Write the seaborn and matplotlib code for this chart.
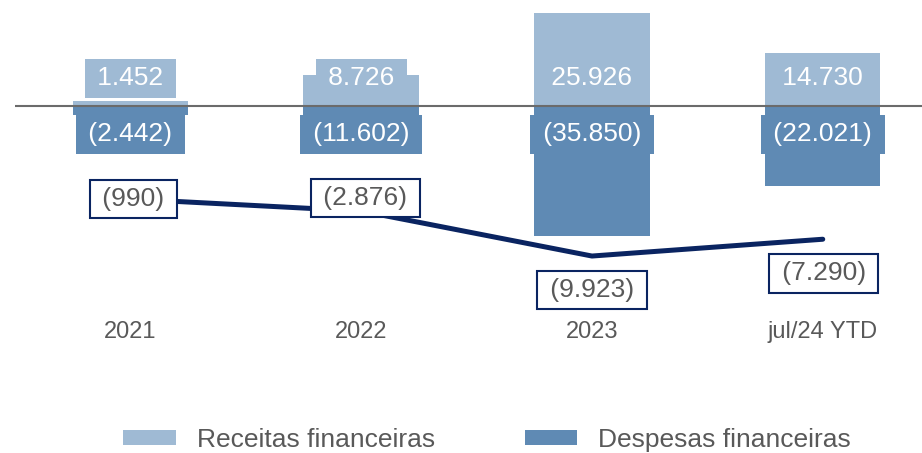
import numpy as np
import pandas as pd
import matplotlib
matplotlib.use("Agg")
import matplotlib.pyplot as plt
import seaborn as sns
from matplotlib.patches import Patch

categories = ["2021", "2022", "2023", "jul/24 YTD"]
receitas = [1452, 8726, 25926, 14730]
despesas = [-2442, -11602, -35850, -22021]
resultado = [-990, -2876, -9923, -7290]
labels_receitas = ["1.452", "8.726", "25.926", "14.730"]
labels_despesas = ["(2.442)", "(11.602)", "(35.850)", "(22.021)"]
labels_resultado = ["(990)", "(2.876)", "(9.923)", "(7.290)"]

C_REC = "#9FBAD4"
C_DES = "#5F8AB4"
C_NET = "#0A2461"
C_TXT = "#595959"

sns.set_theme(style="white")
plt.rcParams["font.family"] = ["Liberation Sans", "DejaVu Sans"]

W, H = 922, 453
fig = plt.figure(figsize=(W / 100, H / 100), dpi=100)
ax_l, ax_b, ax_w, ax_h = 15, H - 310, 907, 310
ax = fig.add_axes([ax_l / W, ax_b / H, ax_w / W, ax_h / H])

df = pd.DataFrame({"cat": categories, "rec": receitas, "des": despesas,
                   "net": resultado, "pos": np.arange(len(categories))})

sns.barplot(data=df, x="cat", y="rec", color=C_REC, width=0.5, ax=ax,
            saturation=1, linewidth=0, zorder=2)
sns.barplot(data=df, x="cat", y="des", color=C_DES, width=0.5, ax=ax,
            saturation=1, linewidth=0, zorder=2)

ax.set_xlim(-0.5, 3.43)
ax.set_ylim(-56530, 29580)
ax.axhline(0, color="#6b6b6b", lw=1.5, zorder=3)

for s in ax.spines.values():
    s.set_visible(False)
ax.set_yticks([])
ax.set_xlabel("")
ax.set_ylabel("")
ax.tick_params(axis="x", length=0, pad=8, labelsize=17, labelcolor=C_TXT)

fs = 19
SP = "\u2009"
PAD = "square,pad=0.28"
for i in range(len(categories)):
    ax.annotate(SP + labels_receitas[i] + SP, xy=(i, 0), xytext=(0, 28),
                textcoords="offset pixels", ha="center", va="center",
                fontsize=fs, color="white", zorder=5,
                bbox=dict(boxstyle=PAD, fc=C_REC, ec="none"))
    ax.annotate(SP + labels_despesas[i] + SP, xy=(i, 0), xytext=(0, -28),
                textcoords="offset pixels", ha="center", va="center",
                fontsize=fs, color="white", zorder=5,
                bbox=dict(boxstyle=PAD, fc=C_DES, ec="none"))

ax2 = ax.twinx()
sns.lineplot(data=df, x="pos", y="net", color=C_NET, lw=3.6, ax=ax2,
             solid_capstyle="round", zorder=2)
ax2.set_ylim(-18380, 30200)
ax2.set_xlim(-0.5, 3.43)
ax2.set_yticks([])
ax2.set_xlabel("")
ax2.set_ylabel("")
for s in ax2.spines.values():
    s.set_visible(False)

net_offsets = [(3, 0), (4, 13), (0, -34), (1, -34)]
for i in range(len(categories)):
    ax2.annotate(SP + labels_resultado[i] + SP, xy=(i, resultado[i]),
                 xytext=net_offsets[i], textcoords="offset pixels",
                 ha="center", va="center", fontsize=fs, color=C_TXT, zorder=5,
                 bbox=dict(boxstyle=PAD, fc="white", ec=C_NET, lw=1.5))

handles = [Patch(facecolor=C_REC, edgecolor="none", label="Receitas financeiras"),
           Patch(facecolor=C_DES, edgecolor="none", label="Despesas financeiras")]
fig.legend(handles=handles, loc="center", bbox_to_anchor=(487 / W, 1 - 440 / H),
           ncol=2, frameon=False, fontsize=19, labelcolor=C_TXT,
           handlelength=2.0, handleheight=0.5, handletextpad=0.8,
           columnspacing=3.4)

fig.savefig("out.png", dpi=100)
